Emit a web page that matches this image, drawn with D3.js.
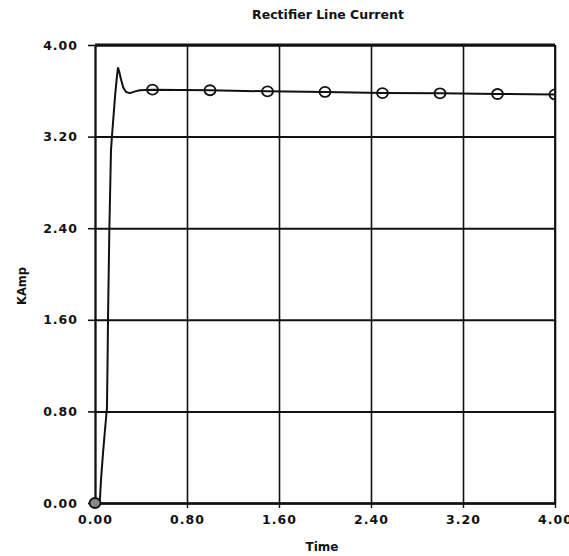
<!DOCTYPE html>
<html>
<head>
<meta charset="utf-8">
<script src="https://cdn.jsdelivr.net/npm/d3@7"></script>
<style>
  html, body { margin: 0; padding: 0; background: #fff; }
  svg { display: block; }
  text { font-family: "DejaVu Sans", sans-serif; font-weight: bold; fill: #111; }
</style>
</head>
<body>
<svg id="chart" width="569" height="556"></svg>
<script>
// ---- data ----
const title = "Rectifier Line Current";
const xLabel = "Time";
const yLabel = "KAmp";
const xTicks = [0.0, 0.8, 1.6, 2.4, 3.2, 4.0];
const yTicks = [0.0, 0.8, 1.6, 2.4, 3.2, 4.0];
// trace (time, kA)
const traceTime = [0.00, 0.043, 0.052, 0.07, 0.087, 0.104, 0.110, 0.113, 0.125, 0.139, 0.148, 0.175, 0.190, 0.200, 0.210, 0.226, 0.245, 0.270, 0.304, 0.350, 0.39, 0.50, 1.00, 1.50, 2.00, 2.50, 3.00, 3.50, 4.00];
const traceValue = [0.00, 0.03, 0.20, 0.44, 0.64, 0.83, 1.30, 1.60, 2.40, 3.08, 3.21, 3.56, 3.72, 3.80, 3.77, 3.70, 3.63, 3.59, 3.58, 3.595, 3.605, 3.61, 3.605, 3.595, 3.59, 3.58, 3.578, 3.572, 3.568];
// marker positions
const markerTime = [0.0, 0.5, 1.0, 1.5, 2.0, 2.5, 3.0, 3.5, 4.0];
const markerValue = [0.00, 3.61, 3.605, 3.595, 3.59, 3.58, 3.578, 3.572, 3.568];

// ---- layout ----
const svg = d3.select("#chart");
const L = 95, R = 555, T = 45, B = 503;
const x = d3.scaleLinear().domain([0, 4]).range([L, R]);
const y = d3.scaleLinear().domain([0, 4]).range([B, T]);

svg.append("defs").append("clipPath").attr("id", "plotclip")
  .append("rect").attr("x", L - 8).attr("y", T - 2).attr("width", R - L + 8).attr("height", B - T + 10);

// grid
const gx = svg.append("g").attr("transform", `translate(0,${B})`)
  .call(d3.axisBottom(x).tickValues(xTicks).tickSize(-(B - T)).tickSizeOuter(0).tickFormat(""));
gx.select(".domain").remove();
gx.selectAll("line").attr("stroke", "#111").attr("stroke-width", 1.6);

const gy = svg.append("g").attr("transform", `translate(${L},0)`)
  .call(d3.axisLeft(y).tickValues(yTicks).tickSize(-(R - L)).tickSizeOuter(0).tickFormat(""));
gy.select(".domain").remove();
gy.selectAll("line").attr("stroke", "#111").attr("stroke-width", 2);

// labelled axes with short outward ticks
const ax = svg.append("g").attr("transform", `translate(0,${B})`)
  .call(d3.axisBottom(x).tickValues(xTicks).tickSize(5).tickPadding(7).tickSizeOuter(0).tickFormat(d3.format(".2f")));
ax.select(".domain").attr("stroke", "#111").attr("stroke-width", 2.6);
ax.selectAll("line").attr("stroke", "#111").attr("stroke-width", 1.4);
ax.selectAll("text").style("font-size", "12.5px").style("letter-spacing", "1px").attr("fill", "#111");

const ay = svg.append("g").attr("transform", `translate(${L},0)`)
  .call(d3.axisLeft(y).tickValues(yTicks).tickSize(7).tickPadding(10).tickSizeOuter(0).tickFormat(d3.format(".2f")));
ay.select(".domain").attr("stroke", "#111").attr("stroke-width", 2);
ay.selectAll("line").attr("stroke", "#111").attr("stroke-width", 1.6);
ay.selectAll("text").style("font-size", "12.5px").style("letter-spacing", "1px").attr("fill", "#111");

// top frame (thicker) and right frame
svg.append("line").attr("x1", x(0)).attr("x2", x(4)).attr("y1", y(4)).attr("y2", y(4))
  .attr("stroke", "#111").attr("stroke-width", 3);
svg.append("line").attr("x1", x(4)).attr("x2", x(4)).attr("y1", y(4)).attr("y2", y(0))
  .attr("stroke", "#111").attr("stroke-width", 1.8);

// trace
const pts = traceTime.map((t, i) => [t, traceValue[i]]);
const line = d3.line().x(d => x(d[0])).y(d => y(d[1]));
svg.append("path").datum(pts).attr("d", line)
  .attr("fill", "none").attr("stroke", "#111").attr("stroke-width", 2).attr("stroke-linejoin", "round");

// markers
const mk = markerTime.map((t, i) => [t, markerValue[i]]);
svg.append("g").attr("clip-path", "url(#plotclip)").selectAll("ellipse").data(mk).join("ellipse")
  .attr("cx", d => x(d[0])).attr("cy", d => y(d[1]))
  .attr("rx", 5.5).attr("ry", 5)
  .attr("fill", (d, i) => i === 0 ? "#888" : "none")
  .attr("stroke", "#111").attr("stroke-width", 1.8);

// titles
svg.append("text").attr("x", 328).attr("y", 19).attr("text-anchor", "middle")
  .style("font-size", "12.5px").text(title);
svg.append("text").attr("x", 322).attr("y", 551).attr("text-anchor", "middle")
  .style("font-size", "12px").text(xLabel);
svg.append("text").attr("transform", "translate(26,286) rotate(-90)").attr("text-anchor", "middle")
  .style("font-size", "11.5px").text(yLabel);
</script>
</body>
</html>
